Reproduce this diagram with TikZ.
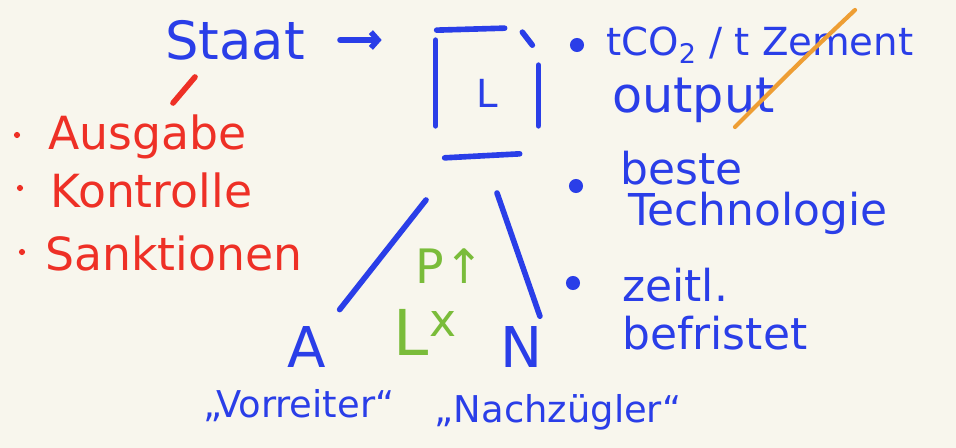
\documentclass[tikz,border=0pt]{standalone}
\usepackage{fontspec}
\setmainfont{DejaVu Sans}
\usepackage{tikz}
\usetikzlibrary{arrows.meta,positioning,calc}
\usepackage{xcolor}
\definecolor{paper}{RGB}{248,246,237}
\definecolor{inkblue}{RGB}{42,62,232}
\definecolor{inkred}{RGB}{238,48,38}
\definecolor{inkgreen}{RGB}{122,188,58}
\definecolor{inkorange}{RGB}{238,158,52}
\tikzset{
    pen/.style={line width=3.2pt, line cap=round, draw=inkblue},
    redpen/.style={pen, draw=inkred},
    orangepen/.style={pen, draw=inkorange, line width=2.4pt},
    bluetxt/.style={text=inkblue, inner sep=0pt, font=\fontsize{25}{28}\selectfont},
    redtxt/.style={text=inkred, inner sep=0pt, font=\fontsize{26}{30}\selectfont},
    greentxt/.style={text=inkgreen, inner sep=0pt},
    dot/.style={circle, fill=inkblue, inner sep=0pt, minimum size=8pt},
    reddot/.style={circle, fill=inkred, inner sep=0pt, minimum size=3.5pt},
}

\begin{document}
\begin{tikzpicture}[x=0.02cm, y=-0.02cm]
    % Paper
    \fill[paper] (0,0) rectangle (956,448);
    \useasboundingbox (0,0) rectangle (956,448);

    % Staat -> licence box
    \node[bluetxt, font=\fontsize{30}{34}\selectfont] (staat) at (235,40) {Staat};
    \node[bluetxt, font=\fontsize{22}{26}\selectfont, minimum width=2.04cm, minimum height=2.5cm] (L) at (487,93) {L};
    \draw[pen] ($(L.north west)+(0,10)$) -- ($(L.south west)+(0,-30)$);
    \draw[pen] ($(L.north west)+(1,0)$) -- ($(L.north west)+(69,-2)$);
    \draw[pen] ($(L.north east)+(-16,2)$) -- ($(L.north east)+(-6,15)$);
    \draw[pen] ($(L.north east)+(0,35)$) -- ($(L.south east)+(0,-30)$);
    \draw[pen] ($(L.south west)+(9,2)$) -- ($(L.south west)+(84,-2)$);
    \draw[pen, -{Straight Barb[length=4pt,width=9pt]}, shorten <=0.7cm, shorten >=1.08cm] (staat.east) -- (staat.east -| L.west);

    % Tasks of the state
    \coordinate (sl) at (195,77);
    \draw[redpen] (sl) -- ++(-22,26);
    \node[reddot] (d1) at (17,135) {};
    \node[redtxt, anchor=west] (aus) at (48,137) {Ausgabe};
    \node[reddot] (d2) at (20,188) {};
    \node[redtxt, anchor=west] (kon) at (50,190) {Kontrolle};
    \node[reddot] (d3) at (22,252) {};
    \node[redtxt, anchor=west] (san) at (45,253) {Sanktionen};

    % Leaders and laggards
    \node[bluetxt, font=\fontsize{32}{36}\selectfont] (A) at (307,347) {A};
    \node[bluetxt, font=\fontsize{32}{36}\selectfont] (N) at (522,347) {N};
    \coordinate (lt) at (426,200);
    \coordinate (rt) at (497,193);
    \draw[pen, shorten >=12pt] (lt) -- (A.north east);
    \draw[pen, shorten >=6pt] (rt) -- (N.north east);
    \node[greentxt, font=\fontsize{27}{30}\selectfont] (pt) at (450,266) {P↑};
    \node[greentxt, font=\fontsize{36}{40}\selectfont] (lx) at (425,332) {L\raisebox{0.3em}{\fontsize{26}{28}\selectfont x}};
    \node[bluetxt, font=\fontsize{21}{24}\selectfont] (vor) at (299,406) {„Vorreiter“};
    \node[bluetxt, font=\fontsize{21}{24}\selectfont] (nach) at (558,412) {„Nachzügler“};

    % Benchmark criteria
    \node[dot] (b1) at (577,45) {};
    \node[bluetxt, anchor=west, font=\fontsize{22}{26}\selectfont] (co2) at (606,45) {tCO\textsubscript{2} / t Zement};
    \node[bluetxt, anchor=west, font=\fontsize{28}{30}\selectfont] (out) at (612,100) {output};
    \draw[orangepen] (855,10) .. controls (800,62) .. (735,127);
    \node[dot] (b2) at (576,186) {};
    \node[bluetxt, anchor=west] (bes) at (620,168) {beste};
    \node[bluetxt, anchor=west] (tec) at (628,213) {Technologie};
    \node[dot] (b3) at (573,283) {};
    \node[bluetxt, anchor=west] (zei) at (622,285) {zeitl.};
    \node[bluetxt, anchor=west] (bef) at (622,333) {befristet};
\end{tikzpicture}
\end{document}
